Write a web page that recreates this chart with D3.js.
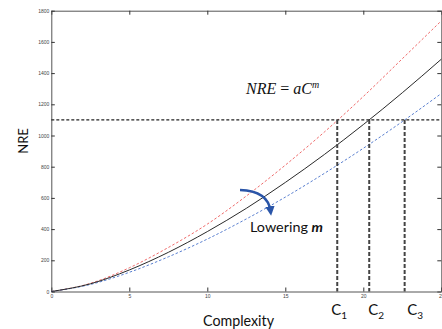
<!DOCTYPE html>
<html>
<head>
<meta charset="utf-8">
<script src="https://cdn.jsdelivr.net/npm/d3@7"></script>
<style>
  html, body { margin: 0; padding: 0; background: #fff; }
  svg { display: block; }
</style>
</head>
<body>
<svg id="chart" width="442" height="329"></svg>
<script>
// Complexity values where each curve is sampled
const complexity = [0, 2.5, 5, 7.5, 10, 12.5, 15, 17.5, 20, 22.5, 25];
// NRE for the nominal exponent (solid)
const nreBase  = [0, 49, 138, 251, 384, 533, 699, 878, 1070, 1274, 1489];
// NRE for a higher exponent (red dashed)
const nreHigh  = [0, 52, 152, 282, 432, 612, 810, 1022, 1250, 1492, 1735];
// NRE for a lowered exponent (blue dashed)
const nreLow   = [0, 45, 123, 222, 336, 465, 605, 757, 918, 1089, 1269];
// Budget level and the complexities reached by each curve at that level
const budget = 1100;
const reachC = [18.33, 20.38, 22.65];
const reachLabels = ["1", "2", "3"];
// Axis ticks
const xTicks = [0, 5, 10, 15, 20, 25];
const yTicks = [0, 200, 400, 600, 800, 1000, 1200, 1400, 1600, 1800];

const svg = d3.select("#chart");
const x = d3.scaleLinear().domain([0, 25]).range([51.3, 441.3]);
const y = d3.scaleLinear().domain([0, 1800]).range([291.5, 10.7]);

const tickFont = "'Liberation Sans', Arial, sans-serif";
const fmt = d3.format("d");

function styleAxis(g, labels) {
  g.select(".domain").attr("stroke", "#555").attr("stroke-width", 1);
  g.selectAll(".tick line").attr("stroke", "#333").attr("stroke-width", 1);
  g.selectAll(".tick text")
    .attr("font-family", tickFont).attr("font-size", 5).attr("fill", "#444");
  if (!labels) g.selectAll(".tick text").remove();
}

// Frame: top and right borders with inward ticks
svg.append("g").attr("transform", `translate(0,${y(1800)})`)
  .call(d3.axisTop(x).tickValues(xTicks).tickSizeInner(-4).tickSizeOuter(0))
  .call(g => styleAxis(g, false));
svg.append("g").attr("transform", `translate(${x(25)},0)`)
  .call(d3.axisRight(y).tickValues(yTicks).tickSizeInner(-4).tickSizeOuter(0))
  .call(g => styleAxis(g, false));

// Bottom and left axes
svg.append("g").attr("transform", `translate(0,${y(0)})`)
  .call(d3.axisBottom(x).tickValues(xTicks).tickFormat(fmt)
    .tickSizeInner(-4).tickSizeOuter(0).tickPadding(3))
  .call(g => styleAxis(g, true));
svg.append("g").attr("transform", `translate(${x(0)},0)`)
  .call(d3.axisLeft(y).tickValues(yTicks).tickFormat(fmt)
    .tickSizeInner(-3.5).tickSizeOuter(0).tickPadding(2))
  .call(g => styleAxis(g, true));

// Curves
const line = d3.line().curve(d3.curveMonotoneX);
const series = [
  { values: nreHigh, color: "#ef6a6a", dash: "2.5,2" },
  { values: nreLow,  color: "#5a7fd0", dash: "2.5,2" },
  { values: nreBase, color: "#2a2a2a", dash: null }
];
series.forEach(s => {
  svg.append("path")
    .attr("d", line(complexity.map((c, i) => [x(c), y(s.values[i])])))
    .attr("fill", "none")
    .attr("stroke", s.color)
    .attr("stroke-width", 1)
    .attr("stroke-dasharray", s.dash);
});

// Budget line and drop lines
svg.append("line")
  .attr("x1", x(0)).attr("x2", x(25))
  .attr("y1", y(budget)).attr("y2", y(budget))
  .attr("stroke", "#222").attr("stroke-width", 1.3)
  .attr("stroke-dasharray", "3,2");
svg.selectAll("line.drop").data(reachC).join("line")
  .attr("class", "drop")
  .attr("x1", d => x(d)).attr("x2", d => x(d))
  .attr("y1", y(budget)).attr("y2", y(0))
  .attr("stroke", "#444").attr("stroke-width", 2)
  .attr("stroke-dasharray", "4,2");

// C1..C3 labels
const labelFont = "Lato, 'Open Sans', sans-serif";
const cl = svg.selectAll("text.clabel").data(reachC).join("text")
  .attr("class", "clabel")
  .attr("x", (d, i) => x(d) + [-6, -1, 2.5][i])
  .attr("y", 315)
  .attr("font-family", labelFont).attr("font-size", 15).attr("fill", "#111");
cl.append("tspan").text("C");
cl.append("tspan").attr("font-size", 10).attr("dy", 3.5).text((d, i) => reachLabels[i]);

// Formula
const f = svg.append("text").attr("x", 246).attr("y", 94)
  .attr("font-family", "'Liberation Serif', 'Times New Roman', serif")
  .attr("font-size", 16).attr("fill", "#111");
f.append("tspan").attr("font-style", "italic").text("NRE");
f.append("tspan").text(" = ");
f.append("tspan").attr("font-style", "italic").text("aC");
f.append("tspan").attr("font-style", "italic").attr("font-size", 10).attr("dy", -6).text("m");

// Arrow showing the effect of lowering the exponent
const defs = svg.append("defs");
defs.append("marker").attr("id", "head")
  .attr("viewBox", "0 0 10 10").attr("refX", 5).attr("refY", 5)
  .attr("markerWidth", 4).attr("markerHeight", 4)
  .attr("orient", "auto")
  .append("path").attr("d", "M0,0 L10,5 L0,10 z").attr("fill", "#2a55a8");
svg.append("path")
  .attr("d", "M240,190 Q268,191 270.5,211")
  .attr("fill", "none").attr("stroke", "#2a55a8").attr("stroke-width", 2.4)
  .attr("marker-end", "url(#head)");

const lw = svg.append("text").attr("x", 250).attr("y", 232)
  .attr("font-family", labelFont).attr("font-size", 14).attr("fill", "#111")
  .attr("textLength", 73).attr("lengthAdjust", "spacingAndGlyphs");
lw.append("tspan").text("Lowering ");
lw.append("tspan").attr("font-weight", "bold").attr("font-style", "italic").text("m");

// Axis titles
svg.append("text").attr("x", 238.5).attr("y", 325.5)
  .attr("text-anchor", "middle")
  .attr("font-family", labelFont).attr("font-size", 15).attr("fill", "#111")
  .attr("textLength", 71).attr("lengthAdjust", "spacingAndGlyphs")
  .text("Complexity");
svg.append("text")
  .attr("transform", "translate(28,141) rotate(-90)")
  .attr("text-anchor", "middle")
  .attr("font-family", labelFont).attr("font-size", 13).attr("fill", "#111")
  .text("NRE");
</script>
</body>
</html>
